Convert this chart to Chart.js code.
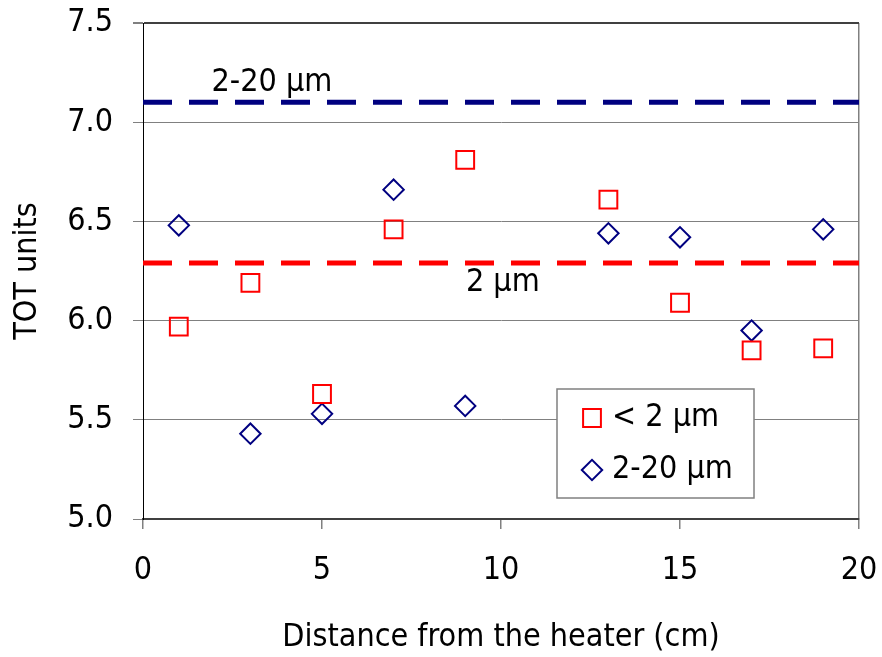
<!DOCTYPE html>
<html>
<head>
<meta charset="utf-8">
<script src="https://cdn.jsdelivr.net/npm/chart.js@4.4.0/dist/chart.umd.min.js"></script>
<style>
  html, body { margin: 0; padding: 0; background: #fff; }
  #wrap { width: 882px; height: 657px; }
</style>
</head>
<body>
<div id="wrap"><canvas id="mycanvas" width="882" height="657"></canvas></div>
<script>
// distance from the heater (cm)
var distance = [1, 3, 5, 7, 9, 13, 15, 17, 19];
// TOT units per grain size
var fine = [5.97, 6.19, 5.63, 6.46, 6.81, 6.61, 6.09, 5.85, 5.86];
var coarse = [6.48, 5.43, 5.53, 6.66, 5.57, 6.44, 6.42, 5.95, 6.46];
// reference levels
var fineLevel = 6.29;
var coarseLevel = 7.1;
var legendLabels = ["< 2 \u00b5m", "2-20 \u00b5m"];
var levelLabels = ["2 \u00b5m", "2-20 \u00b5m"];

var FONT = "'DejaVu Sans Condensed', 'DejaVu Sans', sans-serif";

function pts(xs, ys) {
  var out = [];
  for (var i in xs) out.push({x: xs[i], y: ys[i]});
  return out;
}
function level(v) {
  return [{x: 0, y: v}, {x: 20, y: v}];
}

// text over the dashed lines + legend box inside the plot
var extras = {
  id: 'extras',
  afterDraw: function(chart) {
    var ctx = chart.ctx;
    var xs = chart.scales.x, ys = chart.scales.y;
    ctx.save();
    ctx.font = "32px " + FONT;
    ctx.fillStyle = "#000";
    ctx.textAlign = "center";
    ctx.textBaseline = "middle";
    ctx.fillText(levelLabels[1], xs.getPixelForValue(3.6), ys.getPixelForValue(7.2));
    ctx.fillText(levelLabels[0], xs.getPixelForValue(10.05), ys.getPixelForValue(6.19));

    // legend
    var lx = 557, ly = 389, lw = 197, lh = 109;
    ctx.fillStyle = "#fff";
    ctx.fillRect(lx, ly, lw, lh);
    ctx.strokeStyle = "#808080";
    ctx.lineWidth = 1.5;
    ctx.strokeRect(lx, ly, lw, lh);
    ctx.textAlign = "left";
    for (var i = 0; i < 2; i++) {
      var ds = chart.data.datasets[i];
      var cy = ly + 29 + i * 52;
      ctx.fillStyle = "rgba(0,0,0,0)";
      ctx.strokeStyle = ds.borderColor;
      ctx.lineWidth = ds.borderWidth;
      Chart.helpers.drawPoint(ctx, {
        pointStyle: ds.pointStyle,
        radius: ds.pointRadius,
        borderWidth: ds.borderWidth
      }, lx + 35, cy);
      ctx.fillStyle = "#000";
      ctx.fillText(legendLabels[i], lx + 55, cy);
    }
    ctx.restore();
  }
};

var chartdata = {
  datasets: [
    {
      label: legendLabels[0],
      data: pts(distance, fine),
      pointStyle: 'rect',
      pointRadius: 12.6,
      pointHoverRadius: 12.6,
      borderWidth: 2,
      borderColor: "#ff0000",
      backgroundColor: "rgba(0,0,0,0)",
      showLine: false
    },
    {
      label: legendLabels[1],
      data: pts(distance, coarse),
      pointStyle: 'rectRot',
      pointRadius: 10.2,
      pointHoverRadius: 10.2,
      borderWidth: 2,
      borderColor: "#000080",
      backgroundColor: "rgba(0,0,0,0)",
      showLine: false
    },
    {
      label: "fine level",
      type: 'line',
      data: level(fineLevel),
      borderColor: "#ff0000",
      borderWidth: 5,
      borderDash: [29, 17],
      pointRadius: 0,
      fill: false
    },
    {
      label: "coarse level",
      type: 'line',
      data: level(coarseLevel),
      borderColor: "#000080",
      borderWidth: 5,
      borderDash: [29, 17],
      pointRadius: 0,
      fill: false
    }
  ]
};

var ctx = document.getElementById("mycanvas");

var ScatterGraph = new Chart(ctx, {
  type: 'scatter',
  data: chartdata,
  plugins: [extras],
  options: {
    responsive: false,
    animation: false,
    layout: { padding: { top: 23, right: 23, left: 0, bottom: 0 } },
    plugins: {
      legend: { display: false },
      tooltip: { enabled: false }
    },
    scales: {
      x: {
        type: 'linear',
        min: 0,
        max: 20,
        afterFit: function(s) {
          s.height = 138;
          s.paddingLeft = 0;
          s.paddingRight = 0;
        },
        ticks: {
          stepSize: 5,
          padding: 22,
          color: "#000",
          font: { family: FONT, size: 32 },
          maxRotation: 0
        },
        grid: {
          drawOnChartArea: true,
          color: function(c) { return c.tick && c.tick.value === 20 ? "#808080" : "rgba(0,0,0,0)"; },
          tickColor: "#808080",
          tickLength: 10,
          lineWidth: 1.5
        },
        border: { display: true, color: "#404040", width: 2 },
        title: {
          display: true,
          text: "Distance from the heater (cm)",
          color: "#000",
          font: { family: FONT, size: 32 },
          padding: { top: 0, bottom: 0 }
        }
      },
      y: {
        min: 5,
        max: 7.5,
        afterFit: function(s) {
          s.width = 143;
          s.paddingTop = 0;
          s.paddingBottom = 0;
        },
        ticks: {
          stepSize: 0.5,
          padding: 20,
          color: "#000",
          font: { family: FONT, size: 32 },
          callback: function(v) { return v.toFixed(1); }
        },
        grid: {
          color: function(c) {
            if (!c.tick) return "#808080";
            if (c.tick.value === 7.5) return "#404040";
            if (c.tick.value === 5) return "rgba(0,0,0,0)";
            return "#808080";
          },
          lineWidth: function(c) { return c.tick && c.tick.value === 7.5 ? 2 : 1; },
          tickColor: "#808080",
          tickLength: 10
        },
        border: { display: true, color: "#000", width: 1 },
        title: {
          display: true,
          text: "TOT units",
          color: "#000",
          font: { family: FONT, size: 32 },
          padding: { top: 8, bottom: 8 }
        }
      }
    }
  }
});
</script>
</body>
</html>
